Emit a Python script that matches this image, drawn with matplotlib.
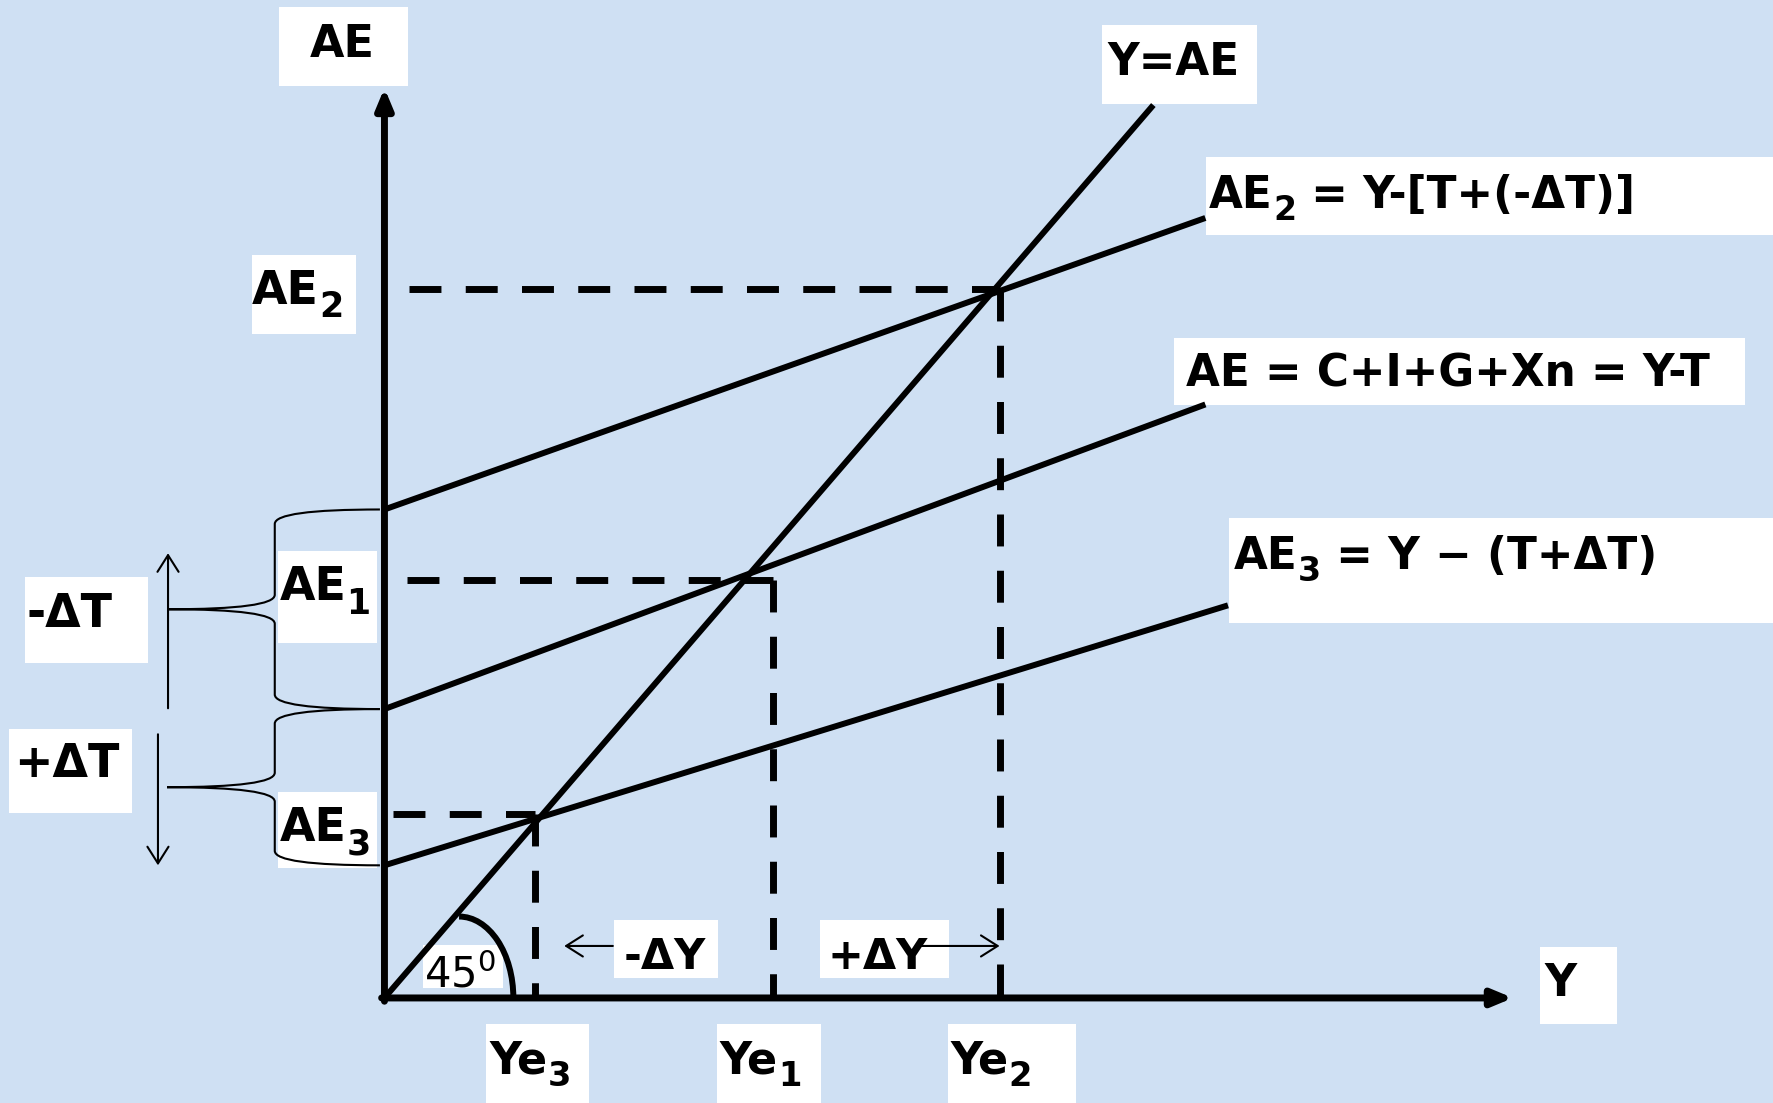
import matplotlib.pyplot as plt
from matplotlib.patches import Rectangle, Arc, PathPatch
from matplotlib.path import Path

# AE lines: AE2 (tax cut), AE1 (start), AE3 (tax rise)
ae_names = ['AE2', 'AE1', 'AE3']
ae_intercepts = [3.72, 2.20, 1.01]
ae_ends = [(7.26, 5.94), (7.26, 4.52), (7.46, 2.99)]   # where each line stops (label box)
line45_end = 6.80

# equilibrium points marked by the dashed guides
eq_x = [5.44, 3.44, 1.33]      # Ye2, Ye1, Ye3
eq_y = [5.40, 3.18, 1.40]      # AE2, AE1, AE3
dash_start = [0.22, 0.20, 0.08]

y_axis_top = 6.93
x_axis_end = 9.98

BG = '#cfe0f3'
fig = plt.figure(figsize=(17.73, 11.03), dpi=100)
fig.patch.set_facecolor(BG)
ax = fig.add_axes([0, 0, 1, 1])
ax.set_xlim(-3.40, 12.28)
ax.set_ylim(-0.80, 7.60)
ax.axis('off')

# white label boxes (x0, x1, y0, y1)
boxes = [(-0.93, 0.21, 6.946, 7.549), (6.35, 7.72, 6.808, 7.411),
         (7.27, 12.4, 5.810, 6.406), (6.98, 12.03, 4.516, 5.024),
         (7.47, 12.4, 2.852, 3.654), (-1.17, -0.254, 5.055, 5.656),
         (-0.94, -0.07, 2.706, 3.404), (-0.94, -0.07, 0.991, 1.568),
         (-3.18, -2.09, 2.551, 3.206), (-3.32, -2.23, 1.405, 2.051),
         (0.338, 1.045, 0.073, 0.405), (2.03, 2.95, 0.155, 0.595),
         (3.85, 4.99, 0.155, 0.595), (0.90, 1.81, -0.81, -0.198),
         (2.94, 3.86, -0.81, -0.198), (4.98, 6.12, -0.81, -0.198),
         (10.22, 10.90, -0.198, 0.388)]
for x0, x1, y0, y1 in boxes:
    ax.add_patch(Rectangle((x0, y0), x1 - x0, y1 - y0, fc='white', ec='none', zorder=1))

# axes with arrow heads
ax_arrow = dict(arrowstyle='-|>,head_length=0.6,head_width=0.25', lw=5, color='k',
                mutation_scale=20, shrinkA=0, shrinkB=0)
ax.annotate('', xy=(0, y_axis_top), xytext=(0, -0.025), arrowprops=ax_arrow, zorder=4)
ax.annotate('', xy=(x_axis_end, 0), xytext=(-0.025, 0), arrowprops=ax_arrow, zorder=4)

# 45 degree line and AE lines
ax.plot([0, line45_end], [0, line45_end], color='k', lw=4.3, solid_capstyle='butt', zorder=3)
for b, (xe, ye) in zip(ae_intercepts, ae_ends):
    ax.plot([0, xe], [b, ye], color='k', lw=4.3, solid_capstyle='butt', zorder=3)

# dashed guides to the axes
for x, y, x0 in zip(eq_x, eq_y, dash_start):
    ax.plot([x0, x], [y, y], color='k', lw=5, ls=(0, (4.6, 3.5)), zorder=2)
    ax.plot([x, x], [y, 0], color='k', lw=5, ls=(0, (4.6, 3.5)), zorder=2)

# 45 degree arc
ax.add_patch(Arc((0.66, 0), 2 * 0.48, 2 * 0.62, theta1=0, theta2=90, color='k', lw=4.3, zorder=3))

# braces showing the tax change
def brace(y_top, y_bot, x_tip, x_end=-0.04, x_spine=-0.97, d=0.11):
    y_mid = (y_top + y_bot) / 2
    verts = [(x_end, y_top), (x_spine, y_top), (x_spine, y_top - d),
             (x_spine, y_mid + d), (x_spine, y_mid), (x_tip, y_mid),
             (x_spine, y_mid), (x_spine, y_mid - d),
             (x_spine, y_bot + d), (x_spine, y_bot), (x_end, y_bot)]
    codes = [Path.MOVETO, Path.CURVE3, Path.CURVE3, Path.LINETO, Path.CURVE3, Path.CURVE3,
             Path.CURVE3, Path.CURVE3, Path.LINETO, Path.CURVE3, Path.CURVE3]
    ax.add_patch(PathPatch(Path(verts, codes), fc='none', ec='k', lw=1.5, zorder=3))

brace(ae_intercepts[0], ae_intercepts[1], -1.914)
brace(ae_intercepts[1], ae_intercepts[2], -1.923)

thin = dict(arrowstyle='->,head_length=0.6,head_width=0.38', lw=1.5, color='k',
            mutation_scale=20, shrinkA=0, shrinkB=0)
ax.annotate('', xy=(-1.914, 3.387), xytext=(-1.914, 2.206), arrowprops=thin, zorder=3)
ax.annotate('', xy=(-2.003, ae_intercepts[2]), xytext=(-2.003, 2.008), arrowprops=thin, zorder=3)
ax.annotate('', xy=(eq_x[2] + 0.26, 0.396), xytext=(2.02, 0.396), arrowprops=thin, zorder=3)
ax.annotate('', xy=(eq_x[0], 0.396), xytext=(4.75, 0.396), arrowprops=thin, zorder=3)

# labels
bold = dict(fontweight='bold', color='k', zorder=2, family='DejaVu Sans')


def label(x, y, main, sub='', rest='', fs=32, ha='left'):
    # main text, then a lowered subscript, then the rest on the main baseline
    t1 = ax.text(x, y, main, ha=ha, va='baseline', fontsize=fs, **bold)
    if not sub:
        return
    t2 = ax.annotate(sub, xy=(1, 0), xycoords=t1, xytext=(0.3, -0.23 * fs),
                     textcoords='offset points', ha='left', va='bottom',
                     fontsize=0.76 * fs, **bold)
    if rest:
        ax.annotate(rest, xy=(1, 0), xycoords=(t2, t1), ha='left', va='bottom',
                    fontsize=fs, **bold)


label(-0.374, 7.166, 'AE', ha='center')
label(6.98, 7.03, 'Y=AE', fs=31.5, ha='center')
label(7.29, 6.015, 'AE', '2', ' = Y-[T+(-ΔT)]', fs=31.5)
label(7.09, 4.654, 'AE = C+I+G+Xn = Y-T', fs=31.5)
label(7.51, 3.270, 'AE', '3', ' = Y \u2212 (T+ΔT)', fs=31.5)
label(-1.17, 5.287, 'AE', '2', fs=33)
label(-0.93, 3.028, 'AE', '1', fs=33)
label(-0.93, 1.198, 'AE', '3', fs=33)
label(-3.164, 2.822, '-ΔT', fs=33)
label(-3.276, 1.680, '+ΔT', fs=33)
label(2.115, 0.224, '-ΔY', fs=31)
label(3.92, 0.224, '+ΔY', fs=31)
label(0.93, -0.577, 'Ye', '3')
label(2.964, -0.577, 'Ye', '1')
label(5.004, -0.577, 'Ye', '2')
label(10.40, 0.017, 'Y', ha='center')
ax.text(0.35, 0.078, r'45$^\mathregular{0}$', ha='left', va='baseline', fontsize=30,
        family=['Liberation Sans Narrow', 'DejaVu Sans'], color='k', zorder=2)

plt.savefig('out.png', dpi=100, facecolor=fig.get_facecolor())
